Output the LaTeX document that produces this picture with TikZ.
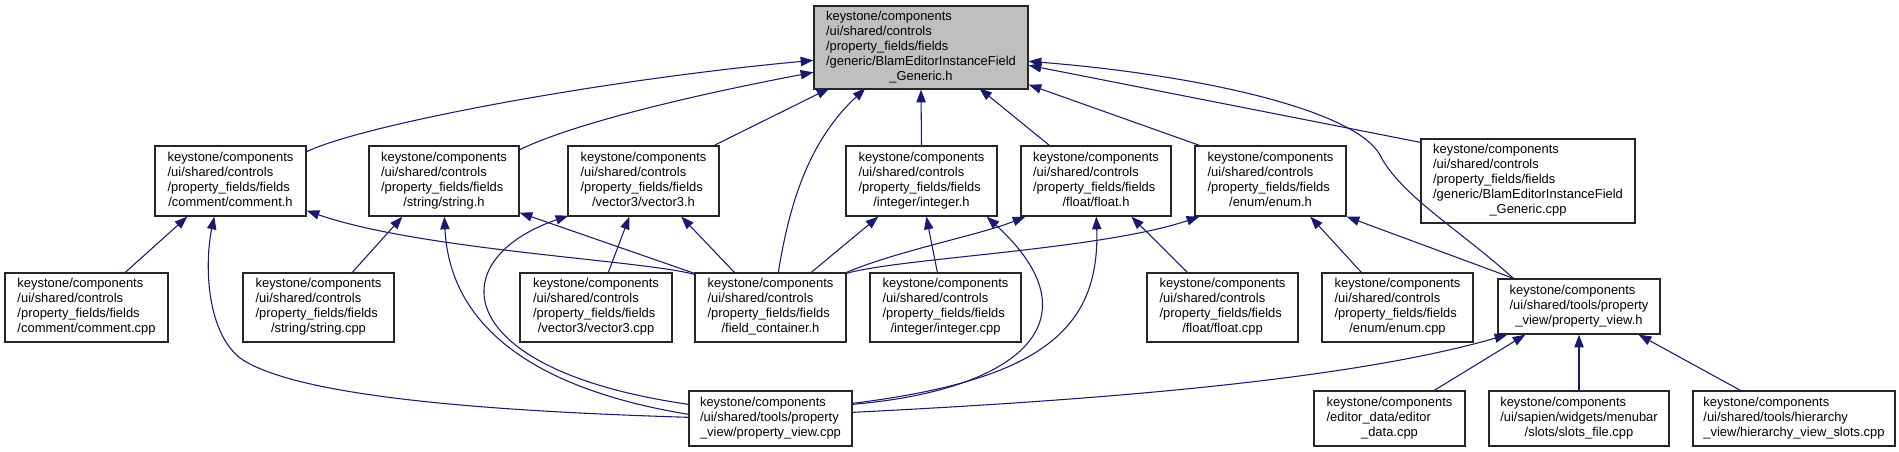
\documentclass[tikz,border=0pt]{standalone}
\usepackage{fontspec}
\setmainfont{Liberation Sans}
\usetikzlibrary{arrows.meta,calc}
\definecolor{edgec}{HTML}{191970}
\definecolor{mainfill}{HTML}{BFBFBF}
\newcommand\tb[1]{\begin{tabular}{@{}l@{}}#1\end{tabular}}
\newcommand\lastl[1]{\multicolumn{1}{@{}c@{}}{#1}}
\newcommand\kc{keystone/components}
\newcommand\usc{/ui/shared/controls}
\newcommand\pff{/property\_fields/fields}
\newcommand\ust{/ui/shared/tools/property}
\newcommand\mkbox[7][]{\node[box,minimum width={(#5-#3)*0.75pt},minimum height={(#6-#4)*0.75pt},#1] (#2) at ({(#3+#5)/2},{(#4+#6)/2}) {#7};}
\begin{document}
\begin{tikzpicture}[x=0.75pt,y=-0.75pt,
  box/.style={draw=black!85,line width=1pt,fill=white,inner sep=0pt,font=\fontsize{9.7}{11.25}\selectfont},
  edge/.style={draw=edgec,line width=0.8pt,-{Triangle[length=9.5pt,width=7pt]}}]
\fill[white] (0,0) rectangle (1899,452);
\useasboundingbox (0,0) rectangle (1899,452);
% nodes
\mkbox[fill=mainfill]{main}{814}{6}{1028}{89}{\tb{\kc\\\usc\\\pff\\/generic/BlamEditorInstanceField\\\lastl{\_Generic.h}}}
\mkbox{cmh}{155}{146}{306}{216}{\tb{\kc\\\usc\\\pff\\\lastl{/comment/comment.h}}}
\mkbox{sth}{369}{146}{519}{216}{\tb{\kc\\\usc\\\pff\\\lastl{/string/string.h}}}
\mkbox{v3h}{568}{146}{719}{216}{\tb{\kc\\\usc\\\pff\\\lastl{/vector3/vector3.h}}}
\mkbox{inth}{846}{146}{997}{216}{\tb{\kc\\\usc\\\pff\\\lastl{/integer/integer.h}}}
\mkbox{flh}{1021}{146}{1171}{216}{\tb{\kc\\\usc\\\pff\\\lastl{/float/float.h}}}
\mkbox{enh}{1195}{146}{1346}{216}{\tb{\kc\\\usc\\\pff\\\lastl{/enum/enum.h}}}
\mkbox{gen}{1421}{139}{1635}{223}{\tb{\kc\\\usc\\\pff\\/generic/BlamEditorInstanceField\\\lastl{\_Generic.cpp}}}
\mkbox{cmcpp}{5}{273}{168}{342}{\tb{\kc\\\usc\\\pff\\\lastl{/comment/comment.cpp}}}
\mkbox{stcpp}{243}{273}{394}{342}{\tb{\kc\\\usc\\\pff\\\lastl{/string/string.cpp}}}
\mkbox{v3cpp}{520}{273}{672}{342}{\tb{\kc\\\usc\\\pff\\\lastl{/vector3/vector3.cpp}}}
\mkbox{fc}{695}{273}{846}{342}{\tb{\kc\\\usc\\\pff\\\lastl{/field\_container.h}}}
\mkbox{intcpp}{870}{273}{1021}{342}{\tb{\kc\\\usc\\\pff\\\lastl{/integer/integer.cpp}}}
\mkbox{flcpp}{1147}{273}{1298}{342}{\tb{\kc\\\usc\\\pff\\\lastl{/float/float.cpp}}}
\mkbox{encpp}{1322}{273}{1473}{342}{\tb{\kc\\\usc\\\pff\\\lastl{/enum/enum.cpp}}}
\mkbox{pvh}{1498}{279}{1660}{334}{\tb{\kc\\\ust\\\lastl{\_view/property\_view.h}}}
\mkbox{pvcpp}{689}{391}{852}{446}{\tb{\kc\\\ust\\\lastl{\_view/property\_view.cpp}}}
\mkbox{edcpp}{1314}{391}{1465}{446}{\tb{\kc\\/editor\_data/editor\\\lastl{\_data.cpp}}}
\mkbox{slots}{1489}{391}{1669}{446}{\tb{\kc\\/ui/sapien/widgets/menubar\\\lastl{/slots/slots\_file.cpp}}}
\mkbox{hier}{1693}{391}{1895}{446}{\tb{\kc\\/ui/shared/tools/hierarchy\\\lastl{\_view/hierarchy\_view\_slots.cpp}}}
% edges to main
\draw[edge] ($(cmh.north west)+(151,7)$) .. controls (360,125) and (600,80) .. ($(main.north west)+(0,55)$);
\draw[edge] ($(sth.north west)+(150,5)$) .. controls (580,120) and (720,90) .. ($(main.north west)+(0,67)$);
\draw[edge] ($(v3h.north west)+(147,0)$) -- ($(main.north west)+(16,83)$);
\draw[edge] ($(fc.north west)+(84,0)$) .. controls (790,200) and (810,140) .. ($(main.north west)+(52,83)$);
\draw[edge] (inth.north) -- (main.south);
\draw[edge] ($(flh.north west)+(29,0)$) -- ($(main.north west)+(166,83)$);
\draw[edge] ($(enh.north west)+(5,0)$) -- ($(main.south east)+(0,-5)$);
\draw[edge] ($(gen.north west)+(0,4)$) -- ($(main.north east)+(0,60)$);
\draw[edge] ($(pvh.north west)+(16,0)$) .. controls (1460,230) and (1400,195) .. (1380,155) .. controls (1355,110) and (1200,75) .. ($(main.north east)+(0,56)$);
% comment.h
\draw[edge] ($(cmcpp.north west)+(121,0)$) -- ($(cmh.south west)+(33,0)$);
\draw[edge] ($(pvcpp.north west)+(0,27)$) .. controls (520,412) and (300,400) .. (240,358) .. controls (205,330) and (205,260) .. ($(cmh.south west)+(60,0)$);
\draw[edge] ($(fc.north west)+(0,2)$) .. controls (640,260) and (420,250) .. ($(cmh.south east)+(0,-6)$);
% string.h
\draw[edge] ($(stcpp.north west)+(110,0)$) -- ($(sth.south west)+(34,0)$);
\draw[edge] ($(pvcpp.north west)+(0,24)$) .. controls (540,390) and (450,330) .. ($(sth.south west)+(76,0)$);
\draw[edge] ($(fc.north west)+(0,1)$) -- ($(sth.south east)+(0,-4)$);
% vector3.h
\draw[edge] ($(v3cpp.north west)+(89,0)$) -- ($(v3h.south west)+(62,0)$);
\draw[edge] ($(fc.north west)+(40,0)$) -- ($(v3h.south west)+(114,0)$);
\draw[edge] ($(pvcpp.north west)+(0,14)$) .. controls (450,370) and (440,260) .. ($(v3h.south west)+(1,-1)$);
% integer.h
\draw[edge] ($(intcpp.north west)+(68,0)$) -- ($(inth.south west)+(81,0)$);
\draw[edge] ($(fc.north west)+(117,0)$) -- ($(inth.south west)+(33,0)$);
\draw[edge] ($(pvcpp.north east)+(0,14)$) .. controls (1020,390) and (1100,320) .. ($(inth.south east)+(-11,0)$);
% float.h
\draw[edge] ($(flcpp.north west)+(41,0)$) -- ($(flh.south west)+(111,0)$);
\draw[edge] (fc.north east) .. controls (900,250) and (980,235) .. ($(flh.south west)+(5,0)$);
\draw[edge] ($(pvcpp.north east)+(0,13)$) .. controls (1040,380) and (1100,330) .. ($(flh.south west)+(76,0)$);
% enum.h
\draw[edge] ($(fc.north east)+(0,1)$) .. controls (900,258) and (1100,250) .. ($(enh.south west)+(5,0)$);
\draw[edge] ($(encpp.north west)+(40,0)$) -- ($(enh.south west)+(116,0)$);
\draw[edge] ($(pvh.north west)+(16,0)$) -- (enh.south east);
% property_view.h
\draw[edge] ($(pvcpp.north east)+(0,22)$) .. controls (1100,400) and (1350,380) .. ($(pvh.south west)+(10,0)$);
\draw[edge] ($(edcpp.north west)+(121,0)$) -- ($(pvh.south west)+(28,0)$);
\draw[edge] (slots.north) -- (pvh.south);
\draw[edge] ($(hier.north west)+(48,0)$) -- ($(pvh.south east)+(-22,0)$);
\end{tikzpicture}
\end{document}
